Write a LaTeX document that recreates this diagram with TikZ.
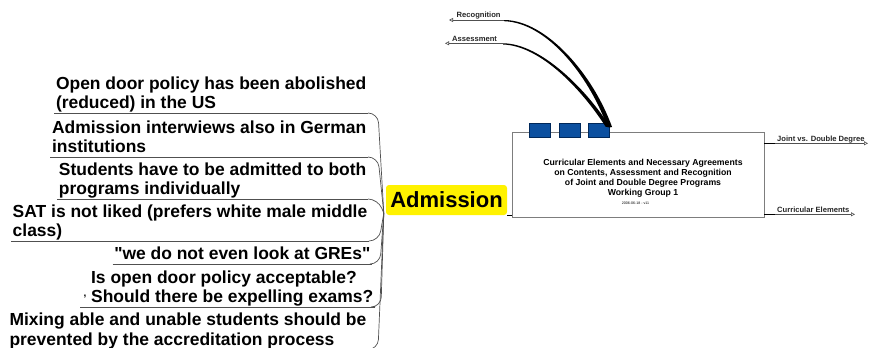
\documentclass[tikz,border=0pt]{standalone}
\usepackage{fontspec}
\setmainfont{Liberation Sans}
\usetikzlibrary{arrows.meta,calc}

\definecolor{tabblue}{RGB}{12,80,160}
\definecolor{tabedge}{RGB}{0,40,90}
\definecolor{linegray}{RGB}{80,80,80}
\definecolor{boxgray}{RGB}{125,125,125}

\tikzset{
  topic/.style={font=\fontsize{17.45}{19.8}\selectfont\bfseries, align=left,
    anchor=south east, inner xsep=1.5pt, inner ysep=0pt},
  uline/.style={draw=linegray, line width=0.8pt},
  branch/.style={draw=linegray, line width=0.7pt, rounded corners=10pt},
  leaf/.style={draw=linegray, line width=0.6pt,
    -{Triangle[open,length=4pt,width=4pt]}},
  leaftext/.style={font=\fontsize{7.6}{9}\selectfont\bfseries,
    anchor=base west, inner sep=0pt, text=black!85},
  tab/.style={draw=tabedge, fill=tabblue, line width=0.6pt,
    minimum width=21pt, minimum height=14pt, inner sep=0pt},
}
\newcommand{\lowline}{\rule[-4pt]{0pt}{4pt}}

\begin{document}
\begin{tikzpicture}[x=1pt,y=-1pt]
\useasboundingbox (0,0) rectangle (870,348);
\clip (0,0) rectangle (870,348);
%
% main topic box
\node[draw=boxgray, fill=white, line width=0.8pt, minimum width=252pt,
  minimum height=85pt, inner sep=0pt] (wg) at (638,174.5) {};
\node[tab] (sq1) at (539.7,130.5) {};
\node[tab] (sq2) at (569.3,130.5) {};
\node[tab] (sq3) at (598.8,130.5) {};
\node[font=\fontsize{8.7}{10.3}\selectfont\bfseries, align=center,
  anchor=north, inner sep=0pt] (wgtext) at (643,158.5)
  {Curricular Elements and Necessary Agreements\\on Contents, Assessment and Recognition\\of Joint and Double Degree Programs\\Working Group 1};
\node[font=\fontsize{3.6}{4}\selectfont, inner sep=0pt] (date) at (635.5,203.3) {2006-06-18 - v11};
%
% links to the top
\coordinate (hook) at ([shift={(1,3)}]sq3.north east);
\coordinate (recogR) at (504,20);
\coordinate (recogL) at (449,20);
\node[leaftext] (recog) at (456.5,17.7) {Recognition};
\draw[leaf] (recogR) -- (recogL);
\fill (recogR) .. controls +(42,0) and +(-19,-53) .. ([shift={(1.5,1)}]hook)
  -- ([shift={(-3.5,0)}]hook) .. controls +(-19,-52) and +(42,1.2) .. ([yshift=-1.2pt]recogR) -- cycle;
\coordinate (assessR) at (503,43.3);
\coordinate (assessL) at (445,43.3);
\node[leaftext] (assess) at (452,41) {Assessment};
\draw[leaf] (assessR) -- (assessL);
\fill (assessR) .. controls +(38,0) and +(-23,-37) .. ([shift={(0,1.5)}]hook)
  -- ([shift={(-5,0.5)}]hook) .. controls +(-23,-36) and +(38,1.2) .. ([yshift=-1.2pt]assessR) -- cycle;
%
% links to the right
\coordinate (jointA) at (775,143.3);
\coordinate (jointB) at (868,143.3);
\draw[line width=0.9pt] (wg.east |- jointA) -- (jointA);
\draw[leaf] (jointA) -- (jointB);
\node[leaftext] (joint) at (777,141) {Joint vs. Double Degree};
\coordinate (currA) at (775,214.3);
\coordinate (currB) at (855,214.3);
\draw[line width=0.9pt] (wg.east |- currA) -- (currA);
\draw[leaf] (currA) -- (currB);
\node[leaftext] (curr) at (777,212) {Curricular Elements};
%
% central topic
\node[fill=yellow, rounded corners=3pt, minimum width=121pt, minimum height=30pt,
  inner sep=0pt, font=\fontsize{22}{26}\selectfont\bfseries] (adm) at (446.5,200) {Admission};
\draw[line width=0.8pt] (adm.south east) -- (adm.south east -| wg.west);
\coordinate (hub) at ([xshift=-2pt,yshift=2pt]adm.south west);
%
% subtopics
\node[topic] (t1) at (368,113) {Open door policy has been abolished\\(reduced) in the US\lowline};
\node[topic] (t2) at (368,157) {Admission interwiews also in German\\institutions\lowline};
\node[topic] (t3) at (368,199) {Students have to be admitted to both\\programs individually\lowline};
\node[topic] (t4) at (369,241) {SAT is not liked (prefers white male middle\\class)\lowline};
\node[topic] (t5) at (372,264) {\textquotedbl we do not even look at GREs\textquotedbl\lowline};
\node[topic] (t6) at (375,307) {Is open door policy acceptable?\\Should there be expelling exams?\lowline};
\node[topic] (t7) at (368,349.5) {Mixing able and unable students should be\\prevented by the accreditation process\lowline};
\node[font=\fontsize{10}{10}\selectfont\bfseries, inner sep=0pt] (mk) at (85,297) {,};
%
\foreach \t/\d in {t1/10,t2/10,t3/10,t4/10,t5/8,t6/6,t7/10}{
  \draw[uline] (\t.south west) -- (\t.south east);
  \draw[branch] (\t.south east) -- ++(\d,0) -- (hub);
}
\draw[uline] ([xshift=-9pt]t6.south west) -- (t6.south west);
\end{tikzpicture}
\end{document}
